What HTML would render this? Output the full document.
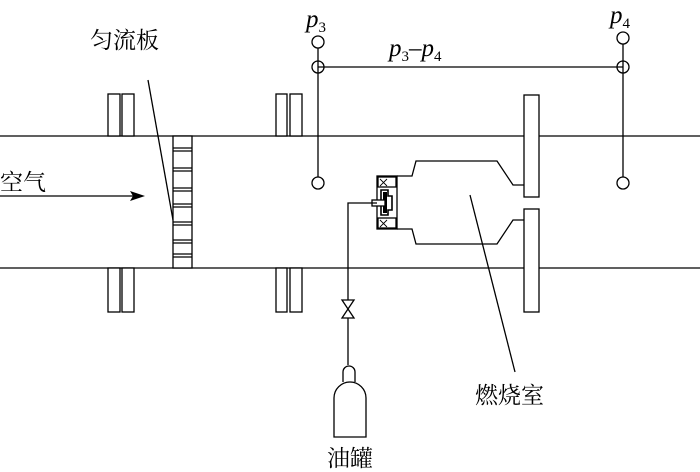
<!DOCTYPE html>
<html><head><style>body{margin:0;background:#fff}svg{display:block}</style></head><body>
<svg width="700" height="472" xmlns="http://www.w3.org/2000/svg" style="font-family:'Liberation Serif','Noto Serif CJK SC',serif">
<g stroke="#000" stroke-width="1.3" fill="none">
<line x1="0" y1="136" x2="700" y2="136"/>
<line x1="0" y1="268" x2="700" y2="268"/>
<g fill="#fff">
<rect x="108" y="94" width="12" height="42"/><rect x="122" y="94" width="12" height="42"/>
<rect x="108" y="268" width="12" height="44"/><rect x="122" y="268" width="12" height="44"/>
<rect x="276" y="94" width="11" height="42"/><rect x="290" y="94" width="12" height="42"/>
<rect x="276" y="268" width="11" height="44"/><rect x="290" y="268" width="12" height="44"/>
<rect x="524" y="95" width="15" height="102"/><rect x="524" y="209" width="15" height="103"/>
<rect x="173" y="136" width="19" height="132"/>
</g>
<path d="M173 148H192M173 151H192M173 168H192M173 171H192M173 188H192M173 191H192M173 204H192M173 207H192M173 222H192M173 225H192M173 240H192M173 243H192M173 254H192M173 257H192"/>
<line x1="0" y1="196" x2="135" y2="196"/>
<line x1="148" y1="80" x2="173" y2="220"/>
<path d="M397 176H412L416 161H497L513 185H524"/>
<path d="M397 229H412L416 244H497L513 220H524"/>
<rect x="377" y="176" width="20" height="53"/>
<rect x="378" y="177" width="18" height="10"/><rect x="378" y="218" width="18" height="10"/>
<path d="M380 179L387 186M387 179L380 186M380 220L387 227M387 220L380 227" stroke-width="0.9"/>
<path d="M381 190H388V196H392V210H388V215H381Z" stroke-width="1.6"/>
<path d="M383 192H387V213H383Z" fill="#000" stroke="none"/>
<rect x="372" y="200" width="13" height="6" fill="#fff"/>
<line x1="470" y1="195" x2="515" y2="372"/>
<path d="M377 203H348V300M348 318V365"/>
<path d="M342 300H354L342 318H354Z"/>
<path d="M343 382V372A6 6 0 0 1 355 372V382"/>
<path d="M334 437V398A16 16 0 0 1 366 398V437Z"/>
<line x1="318" y1="48" x2="318" y2="177"/>
<line x1="623" y1="44" x2="623" y2="177"/>
<line x1="318" y1="67" x2="623" y2="67"/>
<circle cx="318" cy="42" r="6" fill="#fff"/><circle cx="318" cy="67" r="6"/><circle cx="318" cy="183" r="6" fill="#fff"/>
<circle cx="623" cy="38" r="6" fill="#fff"/><circle cx="623" cy="67" r="6"/><circle cx="623" cy="183" r="6" fill="#fff"/>
</g>
<polygon points="145,196 130,191 133,196 130,201" fill="#000"/>
<g font-size="25" style="font-family:'Liberation Serif',serif">
<text x="306" y="27" font-style="italic">p<tspan font-size="15" font-style="normal" dy="5">3</tspan></text>
<text x="610" y="23" font-style="italic">p<tspan font-size="15" font-style="normal" dy="5">4</tspan></text>
<text x="389" y="56" font-style="italic">p<tspan font-size="15" font-style="normal" dy="5">3</tspan><tspan dy="-5">–p</tspan><tspan font-size="15" font-style="normal" dy="5">4</tspan></text>
</g>
<g font-size="23" style="font-family:'Liberation Serif','Noto Serif CJK SC',serif">
<text x="90" y="48">匀流板</text>
<text x="0" y="190">空气</text>
<text x="475" y="403">燃烧室</text>
<text x="327" y="466">油罐</text>
</g>
</svg>
</body></html>
